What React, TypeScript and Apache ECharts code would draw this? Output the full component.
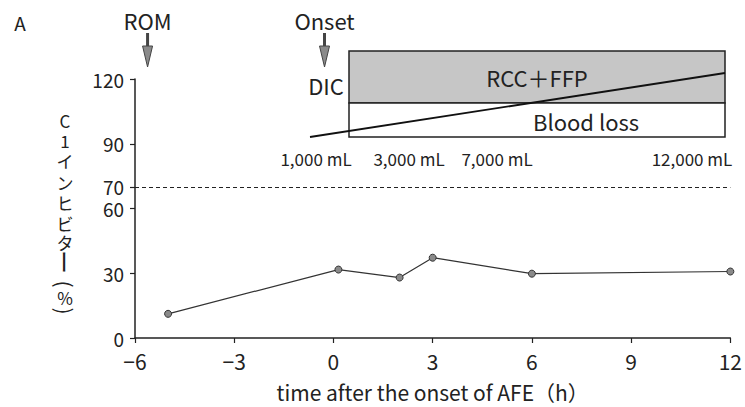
import React, { useEffect, useRef } from "react";
import * as echarts from "echarts";

// ---- data ----
const X_TIMES = [-5, 0.15, 2, 3, 6, 12];
const C1_INHIBITOR = [11.2, 31.7, 28.0, 37.2, 29.8, 30.8];
const Y_TICKS = [0, 30, 60, 70, 90, 120];
const THRESHOLD = 70;
const EVENT_LABELS = ["ROM", "Onset"];
const EVENT_TIMES = [-5.62, -0.27];
const VOLUME_LABELS = ["1,000 mL", "3,000 mL", "7,000 mL", "12,000 mL"];
// vertical (tategaki) y-axis title: C1インヒビター（%）
const Y_NAME_CHARS = ["C", "1", "イ", "ン", "ヒ", "ビ", "タ", "ー", "(", "%", ")"];
const Y_NAME_ROTATED = ["ー", "(", ")"];

const FONT = "'Noto Sans CJK JP', 'Noto Sans', sans-serif";
const INK = "#222";

export default function App() {
  const ref = useRef<HTMLDivElement>(null);
  useEffect(() => {
    document.body.style.margin = "0";
    const el = ref.current!;
    const chart = echarts.init(el, null, { renderer: "svg" });

    // vertical y-axis title characters, placed as pixel-positioned mark labels
    const charY = [120, 140, 160, 182, 202, 223, 242, 262, 284, 297, 311];
    const titleMarks = Y_NAME_CHARS.map((c, i) => {
      const rot = Y_NAME_ROTATED.indexOf(c) >= 0;
      const size = c === "ー" ? 24 : rot ? 21 : 17;
      return {
        x: 65,
        y: charY[i],
        value: i,
        label: {
          show: true,
          position: "inside",
          formatter: c,
          rotate: rot ? -90 : 0,
          fontSize: size,
          lineHeight: size,
          color: INK,
          fontFamily: FONT,
          align: "center",
          verticalAlign: "middle",
        },
      };
    });

    const option: any = {
      animation: false,
      backgroundColor: "#fff",
      textStyle: { fontFamily: FONT },
      grid: { left: 135, right: 11, top: 79, bottom: 69 },
      xAxis: {
        type: "value",
        min: -6,
        max: 12,
        interval: 3,
        name: "time after the onset of AFE（h）",
        nameLocation: "middle",
        nameGap: 43,
        nameTextStyle: { fontSize: 21, color: INK, fontFamily: FONT },
        axisLine: { show: true, onZero: false, lineStyle: { color: INK, width: 1.5 } },
        axisTick: { show: true, inside: false, length: 5, lineStyle: { color: INK, width: 1.2 } },
        axisLabel: {
          fontSize: 21,
          color: INK,
          margin: 12,
          fontFamily: FONT,
          formatter: (v: number) => (v < 0 ? "−" + Math.abs(v) : String(v)),
        },
        splitLine: { show: false },
      },
      yAxis: {
        type: "value",
        min: 0,
        max: 120,
        interval: 10,
        axisLine: { show: true, onZero: false, lineStyle: { color: INK, width: 1.5 } },
        axisTick: { show: true, inside: false, length: 5, customValues: Y_TICKS, lineStyle: { color: INK, width: 1.2 } },
        axisLabel: { fontSize: 19, lineHeight: 18, color: INK, margin: 11, fontFamily: FONT, customValues: Y_TICKS },
        splitLine: { show: false },
      },
      series: [
        {
          type: "line",
          data: X_TIMES.map((t, i) => [t, C1_INHIBITOR[i]]),
          symbol: "circle",
          symbolSize: 7,
          itemStyle: { color: "#8a8a8a", borderColor: "#333", borderWidth: 1 },
          lineStyle: { color: "#333", width: 1.2 },
          markLine: {
            silent: true,
            symbol: "none",
            label: { show: false },
            lineStyle: { color: INK, width: 1, type: [4, 3] },
            data: [{ yAxis: THRESHOLD }],
          },
          markPoint: {
            silent: true,
            symbol: "rect",
            symbolSize: 1,
            itemStyle: { color: "rgba(0,0,0,0)", borderWidth: 0 },
            data: titleMarks,
          },
        },
      ],
    };
    chart.setOption(option);

    const graphic: any[] = [];
    const txt = (text: string, x: number, y: number, size: number) => ({
      type: "text",
      x,
      y,
      style: { text, fontSize: size, fill: INK, fontFamily: FONT, align: "center", verticalAlign: "middle" },
    });
    graphic.push(txt("A", 20, 22, 19));
    EVENT_LABELS.forEach((label, i) => {
      const x = (chart.convertToPixel({ gridIndex: 0 }, [EVENT_TIMES[i], 0]) as number[])[0];
      graphic.push(txt(label, x, 20, 22));
      graphic.push({
        type: "rect",
        shape: { x: x - 1.5, y: 33, width: 3, height: 14 },
        style: { fill: "#444" },
      });
      graphic.push({
        type: "polygon",
        shape: { points: [[x - 5, 46], [x + 5, 46], [x, 67]] },
        style: { fill: "#8a8a8a", stroke: "#444", lineWidth: 1 },
      });
    });
    // inset: DIC / transfusion / blood loss
    graphic.push({
      type: "rect",
      shape: { x: 349, y: 51, width: 376, height: 52 },
      style: { fill: "#c6c6c6", stroke: INK, lineWidth: 1.5 },
    });
    graphic.push({
      type: "rect",
      shape: { x: 349, y: 103, width: 376, height: 34 },
      style: { fill: "#fff", stroke: INK, lineWidth: 1.5 },
    });
    graphic.push({
      type: "line",
      shape: { x1: 310, y1: 137, x2: 725, y2: 73 },
      style: { stroke: "#111", lineWidth: 1.8 },
    });
    graphic.push(txt("DIC", 326, 85, 22));
    graphic.push(txt("RCC＋FFP", 537, 77, 22));
    graphic.push(txt("Blood loss", 586, 121, 22));
    const volX = [316, 409, 497, 692];
    VOLUME_LABELS.forEach((l, i) => graphic.push(txt(l, volX[i], 158, 17)));
    chart.setOption({ graphic });
    return () => chart.dispose();
  }, []);
  return <div ref={ref} style={{ width: 745, height: 407 }} />;
}
